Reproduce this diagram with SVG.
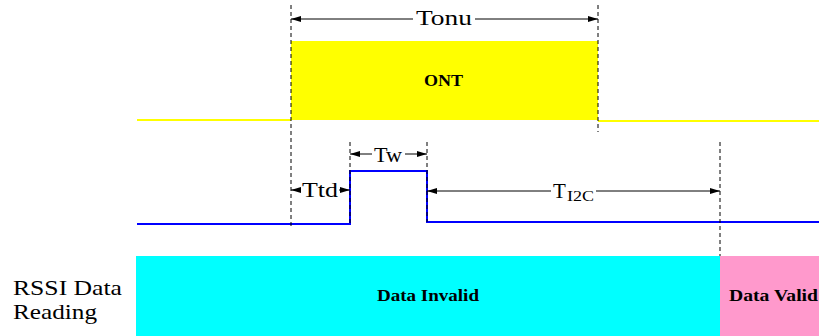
<svg xmlns="http://www.w3.org/2000/svg" width="819" height="336" viewBox="0 0 819 336">
<style>
.dash{stroke:#000;stroke-width:1;stroke-dasharray:4,3;fill:none}
.dim{stroke:#000;stroke-width:1;fill:none}
text{font-family:'Liberation Serif','Times New Roman',serif;fill:#000}
.b{font-weight:bold;text-anchor:middle}
</style>
<defs>
<marker id="a" viewBox="0 0 10 6" refX="10" refY="3" markerWidth="10" markerHeight="6" markerUnits="userSpaceOnUse" orient="auto-start-reverse"><path d="M0,0 L10,3 L0,6 z" fill="#000"/></marker>
</defs>
<g id="ont">
<rect x="291" y="41" width="307" height="79" fill="#ffff00"/>
<text class="b" x="443.5" y="86" font-size="16" textLength="39" lengthAdjust="spacingAndGlyphs" font-family="Liberation Serif, serif">ONT</text>
</g>
<g id="ont-line">
<line x1="137" y1="120" x2="291" y2="120" stroke="#ffff00" stroke-width="2"/>
<line x1="598" y1="121" x2="819" y2="121" stroke="#ffff00" stroke-width="2"/>
</g>
<g id="pulse">
<polyline points="137,224 350,224 350,171 427,171 427,222 819,222" fill="none" stroke="#0000ff" stroke-width="2"/>
</g>
<g id="invalid">
<rect x="136" y="256" width="584" height="80" fill="#00ffff"/>
<text class="b" x="428" y="301" font-size="17" textLength="102" lengthAdjust="spacingAndGlyphs" font-family="Liberation Serif, serif">Data Invalid</text>
</g>
<g id="valid">
<rect x="720" y="256" width="99" height="80" fill="#ff99cc"/>
<text class="b" x="773.5" y="301" font-size="17" textLength="89" lengthAdjust="spacingAndGlyphs" font-family="Liberation Serif, serif">Data Valid</text>
</g>
<g id="label">
<text x="13" y="295" font-size="21" textLength="109" lengthAdjust="spacingAndGlyphs" font-family="Liberation Serif, serif">RSSI Data</text>
<text x="13" y="319" font-size="21" textLength="84" lengthAdjust="spacingAndGlyphs" font-family="Liberation Serif, serif">Reading</text>
</g>
<g id="connectors">
<line class="dash" x1="291" y1="5" x2="291" y2="226"/>
<line class="dash" x1="598" y1="5" x2="598" y2="132"/>
<line class="dash" x1="350" y1="142" x2="350" y2="224"/>
<line class="dash" x1="427" y1="142" x2="427" y2="222"/>
<line class="dash" x1="720" y1="142" x2="720" y2="256"/>
<line class="dim" x1="413" y1="19" x2="291" y2="19" marker-end="url(#a)"/>
<line class="dim" x1="475" y1="19" x2="598" y2="19" marker-end="url(#a)"/>
<line class="dim" x1="301" y1="190" x2="291" y2="190" marker-end="url(#a)"/>
<line class="dim" x1="339" y1="190" x2="350" y2="190" marker-end="url(#a)"/>
<line class="dim" x1="372" y1="154" x2="350" y2="154" marker-end="url(#a)"/>
<line class="dim" x1="405" y1="154" x2="427" y2="154" marker-end="url(#a)"/>
<line class="dim" x1="551" y1="191" x2="427" y2="191" marker-end="url(#a)"/>
<line class="dim" x1="596" y1="191" x2="720" y2="191" marker-end="url(#a)"/>
</g>
<g id="dim-labels">
<text x="416" y="25" font-size="21" textLength="56" lengthAdjust="spacingAndGlyphs" font-family="Liberation Serif, serif">Tonu</text>
<text x="302" y="197" font-size="21" textLength="36" lengthAdjust="spacingAndGlyphs" font-family="Liberation Serif, serif">Ttd</text>
<text x="374" y="162" font-size="21" textLength="28" lengthAdjust="spacingAndGlyphs" font-family="Liberation Serif, serif">Tw</text>
<text x="553" y="198" font-size="21" font-family="Liberation Serif, serif">T<tspan x="567" y="201" font-size="14" textLength="27" lengthAdjust="spacingAndGlyphs">I2C</tspan></text>
</g>
</svg>
